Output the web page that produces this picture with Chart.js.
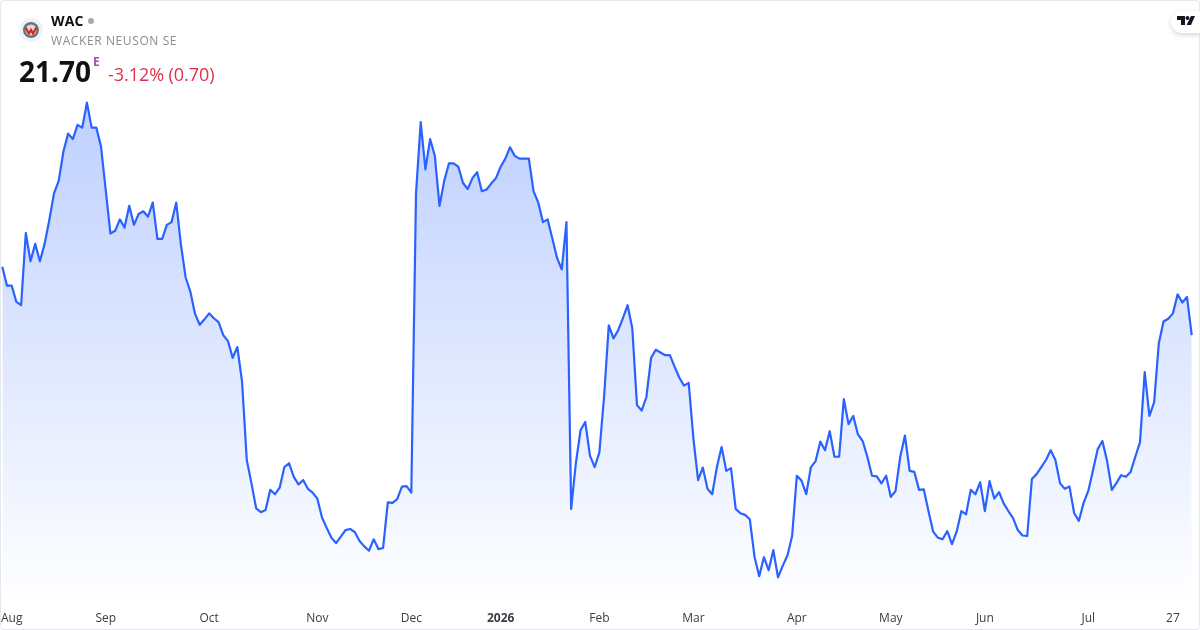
<!DOCTYPE html>
<html>
<head>
<meta charset="utf-8">
<title>WAC</title>
<script src="https://cdn.jsdelivr.net/npm/chart.js@4"></script>
<style>
html, body { margin: 0; padding: 0; background: #fff; }
body { width: 1200px; height: 630px; overflow: hidden; position: relative; font-family: "Open Sans", sans-serif; }
#card { position: absolute; left: 0; top: 0; width: 1198px; height: 628px; border: 1px solid #e6e8ec; border-radius: 4px; }
#myChart { position: absolute; left: 0; top: 0; }
.txt { position: absolute; white-space: nowrap; line-height: 1; }
#sym { left: 51px; top: 14px; font-size: 14px; font-weight: 700; color: #111; letter-spacing: 0.2px; }
#dot { position: absolute; left: 88px; top: 18px; width: 6px; height: 6px; border-radius: 50%; background: #a8a8a8; }
#name { left: 51px; top: 35px; font-size: 12px; color: #8c8c8c; letter-spacing: 0.6px; }
#price { left: 19px; top: 57px; font-size: 28px; font-weight: 700; color: #111; }
#flag { left: 93px; top: 56px; font-size: 12px; font-weight: 700; color: #ab47bc; }
#change { left: 108px; top: 65px; font-size: 18px; letter-spacing: -0.05px; color: #e0304a; }
#logo { position: absolute; left: 19px; top: 18px; }
#tv { position: absolute; right: 0; top: 11px; width: 29px; height: 22px; background: #fff; border-radius: 11px 0 0 11px; box-shadow: 0 2px 5px rgba(0,0,0,0.16); }
#tv svg { position: absolute; left: 6px; top: 5px; }
</style>
</head>
<body>
<canvas id="myChart" width="1200" height="630"></canvas>
<div id="card"></div>
<svg id="logo" width="24" height="24" viewBox="0 0 24 24">
  <circle cx="12" cy="12" r="12" fill="#eef2fb"/>
  <circle cx="12" cy="12" r="8" fill="#6f7470"/>
  <circle cx="12" cy="12" r="5.5" fill="#d9dbd8"/>
  <path d="M6.5 9.5 L10 15.5 L12 12 L14 15.5 L17.5 9.5" fill="none" stroke="#d8232a" stroke-width="2.2"/>
</svg>
<div class="txt" id="sym">WAC</div>
<div id="dot"></div>
<div class="txt" id="name">WACKER NEUSON SE</div>
<div class="txt" id="price">21.70</div>
<div class="txt" id="flag">E</div>
<div class="txt" id="change">-3.12% (0.70)</div>
<div id="tv">
  <svg width="18" height="10" viewBox="0 0 18 10">
    <path d="M0 0 H8 V9 H4 V4 H0 Z" fill="#131722"/>
    <circle cx="10.5" cy="2" r="2" fill="#131722"/>
    <path d="M14 0 H18 L14 9 H9.6 Z" fill="#131722"/>
  </svg>
</div>

<script>
// closing prices, one per trading day
const closes = [
    22.96, 22.61, 22.61, 22.31, 22.25, 23.58, 23.06, 23.38, 23.06, 23.38,
    23.82, 24.31, 24.54, 25.08, 25.41, 25.31, 25.57, 25.52, 25.98, 25.52,
    25.52, 25.17, 24.37, 23.57, 23.62, 23.83, 23.68, 24.08, 23.73, 23.93,
    23.98, 23.88, 24.14, 23.47, 23.47, 23.73, 23.78, 24.14, 23.36, 22.76,
    22.50, 22.09, 21.89, 21.99, 22.10, 22.01, 21.94, 21.70, 21.59, 21.28,
    21.48, 20.84, 19.40, 18.97, 18.51, 18.44, 18.48, 18.85, 18.77, 18.89,
    19.27, 19.34, 19.09, 18.95, 19.03, 18.87, 18.80, 18.69, 18.34, 18.15,
    17.97, 17.87, 17.99, 18.11, 18.13, 18.07, 17.91, 17.81, 17.73, 17.94,
    17.76, 17.78, 18.62, 18.61, 18.68, 18.91, 18.92, 18.80, 24.31, 25.62,
    24.75, 25.31, 25.00, 24.08, 24.54, 24.86, 24.86, 24.80, 24.50, 24.39,
    24.59, 24.70, 24.35, 24.38, 24.49, 24.59, 24.80, 24.95, 25.16, 25.00,
    24.95, 24.95, 24.95, 24.35, 24.14, 23.78, 23.83, 23.48, 23.12, 22.91,
    23.78, 18.50, 19.34, 19.95, 20.10, 19.48, 19.27, 19.54, 20.56, 21.88,
    21.64, 21.79, 22.01, 22.25, 21.83, 20.41, 20.31, 20.56, 21.28, 21.43,
    21.38, 21.33, 21.33, 21.12, 20.92, 20.77, 20.82, 19.80, 19.03, 19.26,
    18.87, 18.77, 19.27, 19.64, 19.20, 19.25, 18.50, 18.42, 18.39, 18.31,
    17.62, 17.26, 17.61, 17.37, 17.74, 17.24, 17.45, 17.64, 18.00, 19.11,
    19.02, 18.77, 19.27, 19.38, 19.74, 19.58, 19.93, 19.46, 19.46, 20.52,
    20.06, 20.21, 19.87, 19.75, 19.46, 19.11, 19.10, 18.97, 19.11, 18.72,
    18.83, 19.46, 19.85, 19.20, 19.18, 18.85, 18.86, 18.46, 18.08, 17.97,
    17.94, 18.09, 17.85, 18.08, 18.46, 18.40, 18.85, 18.77, 18.99, 18.46,
    19.01, 18.69, 18.81, 18.60, 18.46, 18.33, 18.11, 18.01, 18.00, 19.05,
    19.14, 19.27, 19.40, 19.58, 19.40, 18.97, 18.87, 18.91, 18.42, 18.28,
    18.61, 18.83, 19.21, 19.60, 19.75, 19.38, 18.85, 18.98, 19.12, 19.09,
    19.18, 19.46, 19.73, 21.02, 20.21, 20.46, 21.55, 21.95, 22.00, 22.10,
    22.45, 22.30, 22.40, 21.70
];

const tickLabels = ['Aug', 'Sep', 'Oct', 'Nov', 'Dec', '2026', 'Feb', 'Mar', 'Apr', 'May', 'Jun', 'Jul', '27'];
const tickDays = [2, 22, 44, 67, 87, 106, 127, 147, 169, 189, 209, 231, 249];

const ctx = document.getElementById('myChart');

var myChart = new Chart(ctx, {
    type: 'line',
    data: {
        datasets: [{
            data: closes.map((c, i) => ({ x: i, y: c })),
            borderColor: '#2962ff',
            borderWidth: 2.2,
            borderJoinStyle: 'round',
            pointRadius: 0,
            tension: 0,
            fill: 'start',
            backgroundColor: function (context) {
                const area = context.chart.chartArea;
                if (!area) return 'rgba(41, 98, 255, 0.2)';
                const g = context.chart.ctx.createLinearGradient(0, 100, 0, area.bottom);
                g.addColorStop(0, 'rgba(41, 98, 255, 0.3)');
                g.addColorStop(1, 'rgba(41, 98, 255, 0)');
                return g;
            }
        }]
    },
    options: {
        responsive: false,
        animation: false,
        layout: { padding: 0 },
        plugins: { legend: { display: false }, tooltip: { enabled: false } },
        scales: {
            x: {
                type: 'linear',
                min: -0.489,
                max: 254.76,
                grid: { display: false },
                border: { display: false },
                afterBuildTicks: function (axis) {
                    axis.ticks = tickDays.map(d => ({ value: d }));
                },
                afterFit: function (axis) {
                    axis.height = 25;
                    axis.paddingLeft = 0;
                    axis.paddingRight = 0;
                },
                ticks: {
                    autoSkip: false,
                    maxRotation: 0,
                    padding: -2,
                    color: '#3a3d45',
                    font: function (c) {
                        const bold = c.tick && c.tick.value === 106;
                        return { family: '"Open Sans"', size: 12, weight: bold ? '700' : '400' };
                    },
                    callback: function (value) {
                        return tickLabels[tickDays.indexOf(value)];
                    }
                }
            },
            y: {
                display: false,
                min: 16.73,
                max: 27.87
            }
        }
    }
});
</script>
</body>
</html>
